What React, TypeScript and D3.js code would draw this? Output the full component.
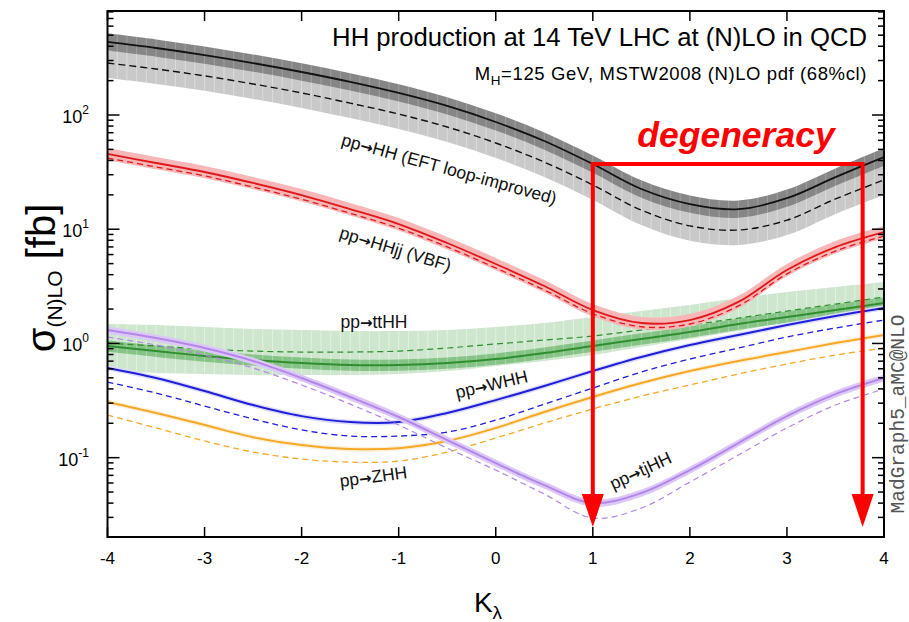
import React from 'react';
import { scaleLinear, scaleLog, line, area, curveCatmullRom, range } from 'd3';

// kappa_lambda grid
const kappa = [-4, -3.5, -3, -2.5, -2, -1.5, -1, -0.5, 0, 0.5, 1, 1.5, 2, 2.5, 3, 3.5, 4];

// pp -> HH (EFT loop-improved), fb
const hhNlo = [436, 386, 335, 285, 238, 195, 156, 120, 86.9, 59.2, 37.2, 22.5, 16.6, 15.0, 18.7, 28.6, 42.9];
const hhLo = [285, 253, 220, 187, 156, 127, 102, 78.5, 56.9, 38.7, 24.4, 14.7, 10.7, 9.84, 12.0, 18.4, 27.0];
const hhNloUnc = [0.84, 1.19];
const hhLoUnc = [0.74, 1.35];

// pp -> HHjj (VBF)
const vbfNlo = [45.6, 38.0, 31.7, 25.4, 19.9, 15.0, 11.1, 7.57, 4.96, 3.18, 1.96, 1.51, 1.6, 2.31, 4.4, 6.98, 9.44];
const vbfLo = [42.0, 35.1, 29.3, 23.4, 18.3, 13.8, 10.2, 7.0, 4.58, 2.94, 1.82, 1.4, 1.48, 2.13, 4.06, 6.44, 8.71];
const vbfUnc = [0.88, 1.13];

// pp -> ttHH
const tthhNlo = [0.948, 0.857, 0.776, 0.716, 0.673, 0.647, 0.647, 0.673, 0.73, 0.824, 0.948, 1.094, 1.259, 1.479, 1.703, 1.96, 2.259];
const tthhLo = [1.008, 0.948, 0.893, 0.857, 0.841, 0.841, 0.857, 0.912, 0.989, 1.071, 1.161, 1.31, 1.449, 1.667, 1.921, 2.213, 2.548];
const tthhLoUp = [1.479, 1.449, 1.393, 1.337, 1.31, 1.284, 1.284, 1.31, 1.393, 1.509, 1.703, 1.921, 2.168, 2.5, 2.818, 3.119, 3.451];
const tthhLoDown = [0.573, 0.551, 0.54, 0.528, 0.528, 0.528, 0.54, 0.573, 0.634, 0.702, 0.791, 0.929, 1.094, 1.284, 1.538, 1.807, 2.084];
const tthhNloUnc = [0.89, 1.12];

// pp -> WHH
const whhNlo = [0.609, 0.498, 0.383, 0.289, 0.231, 0.205, 0.205, 0.246, 0.319, 0.424, 0.573, 0.76, 0.968, 1.186, 1.449, 1.738, 2.042];
const whhLo = [0.459, 0.368, 0.283, 0.218, 0.175, 0.1545, 0.1545, 0.1675, 0.213, 0.294, 0.407, 0.562, 0.73, 0.912, 1.138, 1.365, 1.603];

// pp -> ZHH
const zhhNlo = [0.307, 0.246, 0.193, 0.151, 0.129, 0.119, 0.121, 0.14, 0.182, 0.251, 0.34, 0.45, 0.573, 0.702, 0.841, 1.008, 1.186];
const zhhLo = [0.236, 0.182, 0.14, 0.112, 0.0973, 0.0914, 0.0933, 0.112, 0.1486, 0.201, 0.267, 0.346, 0.433, 0.54, 0.661, 0.791, 0.912];

// pp -> tjHH
const tjhhNlo = [1.31, 1.114, 0.912, 0.702, 0.498, 0.34, 0.227, 0.1426, 0.0897, 0.0575, 0.04, 0.049, 0.0778, 0.1343, 0.231, 0.36, 0.498];
const tjhhLo = [1.138, 0.968, 0.791, 0.609, 0.433, 0.294, 0.193, 0.121, 0.0778, 0.048, 0.0296, 0.0362, 0.0611, 0.1054, 0.182, 0.289, 0.399];
const thinUnc = [0.95, 1.05];
const tjUnc = [0.93, 1.075];

// degenerate kappa values (same sigma_HH)
const degeneracyK = [1, 3.78];

const xTicks = [-4, -3, -2, -1, 0, 1, 2, 3, 4];

// process labels: [final state, kappa, sigma, angle]
const labels: [string, number, number, number][] = [
  ['HH (EFT loop-improved)', -1.6, 54.6, 15.5],
  ['HHjj (VBF)', -1.62, 8.4, 17],
  ['ttHH', -1.6, 1.36, 0],
  ['WHH', -0.4, 0.33, -13],
  ['ZHH', -1.6, 0.0553, -7.5],
  ['tjHH', 1.21, 0.052, -25],
];

const FONT = 'Liberation Sans, Arial, Helvetica, sans-serif';

export default function App() {
  const left = 107.5, right = 884, top = 11, bottom = 537;
  const x = scaleLinear().domain([-4, 4]).range([left, right]);
  const y = scaleLog().domain([0.0202, 814]).range([bottom, top]);
  const curve = curveCatmullRom.alpha(0.5);

  const path = (vals: number[]) =>
    line<number>().x((_, i) => x(kappa[i])).y(d => y(d)).curve(curve)(vals) || '';
  const band = (lo: number[], hi: number[]) =>
    area<number>()
      .x(k => x(k))
      .y0((_, i) => y(lo[i]))
      .y1((_, i) => y(hi[i]))
      .curve(curve)(kappa) || '';
  const scaled = (vals: number[], f: number) => vals.map(v => v * f);

  const stripes = range(-4, 4.001, 0.1);
  const yTicks = y.ticks().filter(t => t >= y.domain()[0] && t <= y.domain()[1]);
  const isMajor = (t: number) => Math.abs(Math.log10(t) - Math.round(Math.log10(t))) < 1e-6;

  const striped = (id: string, d: string, fill: string, stripe: string) => (
    <g>
      <clipPath id={id}><path d={d} /></clipPath>
      <path d={d} fill={fill} />
      <g clipPath={`url(#${id})`}>
        {stripes.map((k, i) => (
          <line key={i} x1={x(k)} x2={x(k)} y1={top} y2={bottom} stroke={stripe} strokeWidth={1} />
        ))}
      </g>
    </g>
  );

  const level = hhNlo[kappa.indexOf(1)];
  const arrowTip = bottom - 10;

  return (
    <svg width={909} height={622} style={{ position: 'absolute', left: 0, top: 0, background: '#fff' }} fontFamily={FONT}>
      <clipPath id="plot"><rect x={left} y={top} width={right - left} height={bottom - top} /></clipPath>

      <g clipPath="url(#plot)">
        {/* HH gluon fusion */}
        {striped('hhlo', band(scaled(hhLo, hhLoUnc[0]), scaled(hhLo, hhLoUnc[1])), '#c9c9c9', 'rgba(255,255,255,0.35)')}
        {striped('hhnlo', band(scaled(hhNlo, hhNloUnc[0]), scaled(hhNlo, hhNloUnc[1])), '#868686', 'rgba(255,255,255,0.22)')}
        <path d={path(hhLo)} fill="none" stroke="#111" strokeWidth={1.4} strokeDasharray="7,4" />
        <path d={path(hhNlo)} fill="none" stroke="#111" strokeWidth={1.8} />

        {/* ttHH */}
        {striped('tthlo', band(tthhLoDown, tthhLoUp), '#cde6cd', 'rgba(255,255,255,0.45)')}
        {striped('tthnlo', band(scaled(tthhNlo, tthhNloUnc[0]), scaled(tthhNlo, tthhNloUnc[1])), '#86c386', 'rgba(255,255,255,0.3)')}
        <path d={path(tthhLo)} fill="none" stroke="#2f8f2f" strokeWidth={1.2} strokeDasharray="6,4" />
        <path d={path(tthhNlo)} fill="none" stroke="#2f8f2f" strokeWidth={2} />

        {/* WHH */}
        <path d={band(scaled(whhNlo, thinUnc[0]), scaled(whhNlo, thinUnc[1]))} fill="#dcdcfb" />
        <path d={path(whhLo)} fill="none" stroke="#1f1fd8" strokeWidth={1.3} strokeDasharray="6,4" />
        <path d={path(whhNlo)} fill="none" stroke="#1f1fd8" strokeWidth={2} />

        {/* ZHH */}
        <path d={band(scaled(zhhNlo, thinUnc[0]), scaled(zhhNlo, thinUnc[1]))} fill="#fdf1dc" />
        <path d={path(zhhLo)} fill="none" stroke="#f7a826" strokeWidth={1.3} strokeDasharray="6,4" />
        <path d={path(zhhNlo)} fill="none" stroke="#f7a826" strokeWidth={2} />

        {/* tjHH */}
        <path d={band(scaled(tjhhNlo, tjUnc[0]), scaled(tjhhNlo, tjUnc[1]))} fill="#dcc8f6" />
        <path d={path(tjhhLo)} fill="none" stroke="#b386ea" strokeWidth={1.2} strokeDasharray="6,4" />
        <path d={path(tjhhNlo)} fill="none" stroke="#b386ea" strokeWidth={2} />

        {/* VBF */}
        <path d={band(scaled(vbfNlo, vbfUnc[0]), scaled(vbfNlo, vbfUnc[1]))} fill="#f7b7b7" />
        <path d={path(vbfLo)} fill="none" stroke="#e0181c" strokeWidth={1.3} strokeDasharray="6,4" />
        <path d={path(vbfNlo)} fill="none" stroke="#e0181c" strokeWidth={1.8} />
      </g>

      {/* frame */}
      <rect x={left} y={top} width={right - left} height={bottom - top} fill="none" stroke="#000" strokeWidth={2} />

      {/* x ticks */}
      {xTicks.map(t => (
        <g key={t}>
          <line x1={x(t)} x2={x(t)} y1={bottom} y2={bottom - 10} stroke="#000" strokeWidth={1.5} />
          <line x1={x(t)} x2={x(t)} y1={top} y2={top + 10} stroke="#000" strokeWidth={1.5} />
          <text x={x(t)} y={564} fontSize={17} textAnchor="middle">{t}</text>
        </g>
      ))}

      {/* y ticks */}
      {yTicks.map((t, i) => {
        const len = isMajor(t) ? 12 : 6;
        return (
          <g key={i}>
            <line x1={left} x2={left + len} y1={y(t)} y2={y(t)} stroke="#000" strokeWidth={1.5} />
            <line x1={right} x2={right - len} y1={y(t)} y2={y(t)} stroke="#000" strokeWidth={1.5} />
            {isMajor(t) && (
              <text x={89} y={y(t) + 8} fontSize={18} textAnchor="end">
                10<tspan fontSize={12} dy={-9}>{Math.round(Math.log10(t))}</tspan>
              </text>
            )}
          </g>
        );
      })}

      {/* axis titles */}
      <text transform="translate(55,278) rotate(-90)" textAnchor="middle" fontSize={40}>
        {'\u03c3'}<tspan fontSize={21} dy={7}>(N)LO</tspan><tspan dy={-7}> [fb]</tspan>
      </text>
      <text x={488} y={612} fontSize={28} textAnchor="middle">
        K<tspan fontSize={19} dy={7}>{'\u03bb'}</tspan>
      </text>

      {/* headline */}
      <text x={867} y={46} fontSize={25.7} textAnchor="end">HH production at 14 TeV LHC at (N)LO in QCD</text>
      <text x={867} y={80} fontSize={18.5} letterSpacing={0.6} textAnchor="end">
        M<tspan fontSize={13.5} dy={5}>H</tspan><tspan dy={-5}>=125 GeV, MSTW2008 (N)LO pdf (68%cl)</tspan>
      </text>

      {/* process labels */}
      {labels.map(([txt, k, s, a]) => (
        <text key={txt} transform={`translate(${x(k)},${y(s)}) rotate(${a})`} fontSize={17.5} fill="#111">
          pp<tspan fontFamily="DejaVu Sans" fontSize={15} fontWeight="bold">{'\u2192'}</tspan>{txt}
        </text>
      ))}

      {/* degeneracy annotation */}
      <g stroke="#ff0000" strokeWidth={4} fill="none">
        <polyline points={`${x(degeneracyK[0])},${arrowTip - 30} ${x(degeneracyK[0])},${y(level)} ${x(degeneracyK[1])},${y(level)} ${x(degeneracyK[1])},${arrowTip - 30}`} />
      </g>
      {degeneracyK.map(k => (
        <polygon key={k} points={`${x(k) - 11},${arrowTip - 33} ${x(k) + 11},${arrowTip - 33} ${x(k)},${arrowTip}`} fill="#ff0000" />
      ))}
      <text x={736} y={147} fontSize={35.5} fontWeight="bold" fontStyle="italic" fill="#ff0000" textAnchor="middle">degeneracy</text>

      {/* generator tag */}
      <text transform="translate(904,414) rotate(-90)" fontSize={19.5} fontFamily="Liberation Mono, Courier New, monospace" fill="#555" textAnchor="middle">MadGraph5_aMC@NLO</text>
    </svg>
  );
}
